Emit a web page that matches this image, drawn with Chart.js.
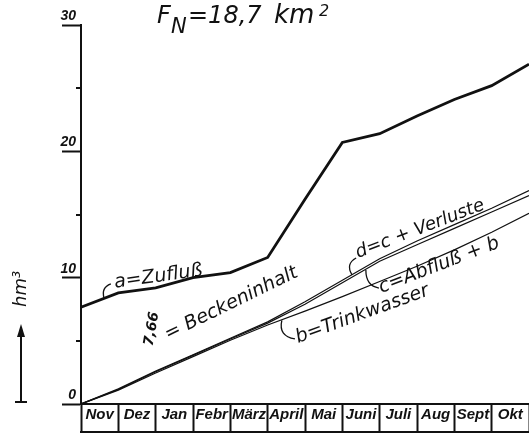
<!DOCTYPE html>
<html>
<head>
<meta charset="utf-8">
<script src="https://cdn.jsdelivr.net/npm/chart.js@4.4.0/dist/chart.umd.min.js"></script>
<style>
  html, body { margin: 0; padding: 0; background: #fff; }
</style>
</head>
<body>
<canvas id="chart" width="529" height="434"></canvas>
<script>
// Monate (Tabelle unter dem Diagramm)
const months = ['Nov', 'Dez', 'Jan', 'Febr', 'März', 'April', 'Mai', 'Juni', 'Juli', 'Aug', 'Sept', 'Okt'];

// Summenlinien in hm³, an den Monatsgrenzen (Anfang Nov ... Ende Okt)
const zufluss     = [7.66, 8.8, 9.2, 10.0, 10.4, 11.6, 16.2, 20.7, 21.4, 22.8, 24.1, 25.2, 26.9]; // a
const verluste    = [0, 1.2, 2.6, 3.9, 5.2, 6.5, 8.1, 9.8, 11.5, 12.9, 14.2, 15.5, 16.9];         // d
const abfluss     = [0, 1.15, 2.55, 3.85, 5.15, 6.4, 7.9, 9.6, 11.3, 12.6, 13.9, 15.2, 16.5];     // c
const trinkwasser = [0, 1.1, 2.45, 3.75, 5.05, 6.25, 7.35, 8.5, 9.7, 10.9, 12.2, 13.6, 15.1];     // b

// Achsen
const yTicks = [0, 5, 10, 15, 20, 25, 30];
const yLabelled = [0, 10, 20, 30];

const INK = '#111';
const LABEL_FONT = "'DejaVu Sans', sans-serif";

function toPoints(arr) {
    return arr.map((v, i) => ({ x: i, y: v }));
}

// Beschriftungen an den Linien (Datenkoordinaten)
const notes = [
    { text: 'a=Zufluß', at: [0.91, 9.2], rot: -8, size: 19, hook: [[0.62, 8.36], [0.53, 9.2], [0.8, 9.5]] },
    { text: '= Beckeninhalt', at: [2.33, 5.07], rot: -26, size: 19 },
    { text: '7,66', at: [1.9, 5.94], rot: -80, size: 14, bold: true, center: true },
    { text: 'd=c + Verluste', at: [7.42, 11.56], rot: -21, size: 18, hook: [[7.26, 10.22], [7.08, 11.1], [7.37, 11.56]] },
    { text: 'c=Abfluß + b', at: [8.04, 8.79], rot: -21, size: 19, hook: [[7.63, 10.6], [7.63, 9.34], [7.98, 9.18]] },
    { text: 'b=Trinkwasser', at: [5.81, 4.83], rot: -20, size: 19, hook: [[5.38, 6.62], [5.28, 5.38], [5.73, 5.15]] }
];

const sketchPlugin = {
    id: 'sketch',
    afterDraw(chart) {
        const ctx = chart.ctx;
        const xs = chart.scales.x;
        const ys = chart.scales.y;
        const px = (vx, vy) => [xs.getPixelForValue(vx), ys.getPixelForValue(vy)];
        const area = chart.chartArea;

        ctx.save();
        ctx.strokeStyle = INK;
        ctx.fillStyle = INK;

        // kurze Striche bei 5, 15, 25
        ctx.lineWidth = 2;
        yTicks.filter(v => !yLabelled.includes(v)).forEach(v => {
            const yy = Math.round(ys.getPixelForValue(v));
            ctx.beginPath();
            ctx.moveTo(area.left - 5, yy);
            ctx.lineTo(area.left, yy);
            ctx.stroke();
        });

        // untere Linie der Monatstabelle
        const rowBottom = area.bottom + 28;
        ctx.beginPath();
        ctx.moveTo(area.left - 1, rowBottom);
        ctx.lineTo(chart.width, rowBottom);
        ctx.stroke();

        // Beschriftungen
        notes.forEach(n => {
            const [tx, ty] = px(n.at[0], n.at[1]);
            ctx.save();
            ctx.translate(tx, ty);
            ctx.rotate(n.rot * Math.PI / 180);
            ctx.font = (n.bold ? 'italic bold ' : 'italic ') + n.size + 'px ' + LABEL_FONT;
            ctx.textAlign = n.center ? 'center' : 'left';
            ctx.textBaseline = n.center ? 'middle' : 'alphabetic';
            ctx.fillText(n.text, 0, 0);
            ctx.restore();

            if (n.hook) {
                const [p0, p1, p2] = n.hook.map(h => px(h[0], h[1]));
                ctx.lineWidth = 1.3;
                ctx.beginPath();
                ctx.moveTo(p0[0], p0[1]);
                ctx.quadraticCurveTo(p1[0], p1[1], p2[0], p2[1]);
                ctx.stroke();
            }
        });

        // Titel F_N = 18,7 km²
        ctx.textAlign = 'left';
        ctx.textBaseline = 'alphabetic';
        ctx.font = 'italic 24px ' + LABEL_FONT;
        ctx.fillText('F', 157, 23);
        ctx.font = 'italic 21px ' + LABEL_FONT;
        ctx.fillText('N', 171, 33);
        ctx.font = 'italic 24px ' + LABEL_FONT;
        ctx.fillText('=18,7', 188, 23);
        ctx.font = 'italic 26px ' + LABEL_FONT;
        ctx.fillText('km', 274, 23);
        ctx.font = 'italic 16px ' + LABEL_FONT;
        ctx.fillText('2', 319, 16);

        // Achsentitel hm³ mit Pfeil
        ctx.save();
        ctx.translate(26, 307);
        ctx.rotate(-Math.PI / 2);
        ctx.font = 'italic 18px ' + LABEL_FONT;
        ctx.fillText('hm³', 0, 0);
        ctx.restore();

        ctx.lineWidth = 2;
        ctx.beginPath();
        ctx.moveTo(21, 402);
        ctx.lineTo(21, 334);
        ctx.moveTo(15, 402);
        ctx.lineTo(27, 402);
        ctx.stroke();
        ctx.beginPath();
        ctx.moveTo(21, 324);
        ctx.lineTo(17, 337);
        ctx.lineTo(25, 337);
        ctx.closePath();
        ctx.fill();

        ctx.restore();
    }
};

function lineSet(label, data, width) {
    return {
        label: label,
        data: toPoints(data),
        borderColor: INK,
        borderWidth: width,
        pointRadius: 0,
        tension: 0,
        fill: false
    };
}

const chart = new Chart(document.getElementById('chart'), {
    type: 'line',
    data: {
        datasets: [
            lineSet('a = Zufluß', zufluss, 2.8),
            lineSet('d = c + Verluste', verluste, 1.2),
            lineSet('c = Abfluß + b', abfluss, 1.2),
            lineSet('b = Trinkwasser', trinkwasser, 1.2)
        ]
    },
    options: {
        responsive: false,
        animation: false,
        devicePixelRatio: 1,
        layout: { padding: { top: 25, right: 0, bottom: 0, left: 0 } },
        plugins: {
            legend: { display: false },
            tooltip: { enabled: false }
        },
        scales: {
            x: {
                type: 'linear',
                min: 0,
                max: months.length,
                afterBuildTicks: scale => {
                    const t = [];
                    for (let i = 0; i <= months.length * 2; i++) t.push({ value: i / 2 });
                    scale.ticks = t;
                },
                afterFit: scale => { scale.height = 30; },
                border: { color: INK, width: 2 },
                grid: {
                    drawOnChartArea: false,
                    drawTicks: true,
                    tickLength: 28,
                    tickWidth: 2,
                    tickColor: c => Number.isInteger(c.tick.value) ? INK : 'rgba(0,0,0,0)'
                },
                ticks: {
                    autoSkip: false,
                    maxRotation: 0,
                    padding: -26,
                    color: INK,
                    font: { family: "'Liberation Sans', sans-serif", size: 15, style: 'italic', weight: 'bold' },
                    callback: v => Number.isInteger(v) ? '' : months[Math.floor(v)]
                }
            },
            y: {
                min: 0,
                max: 30,
                afterBuildTicks: scale => {
                    scale.ticks = yLabelled.map(v => ({ value: v }));
                },
                afterFit: scale => { scale.width = 81; },
                border: { color: INK, width: 2 },
                grid: {
                    drawOnChartArea: false,
                    drawTicks: true,
                    tickLength: 19,
                    tickWidth: 2,
                    tickColor: INK
                },
                ticks: {
                    padding: -14,
                    labelOffset: -9,
                    color: INK,
                    font: { family: "'Liberation Sans', sans-serif", size: 14, style: 'italic', weight: 'bold' }
                }
            }
        }
    },
    plugins: [sketchPlugin]
});
</script>
</body>
</html>
